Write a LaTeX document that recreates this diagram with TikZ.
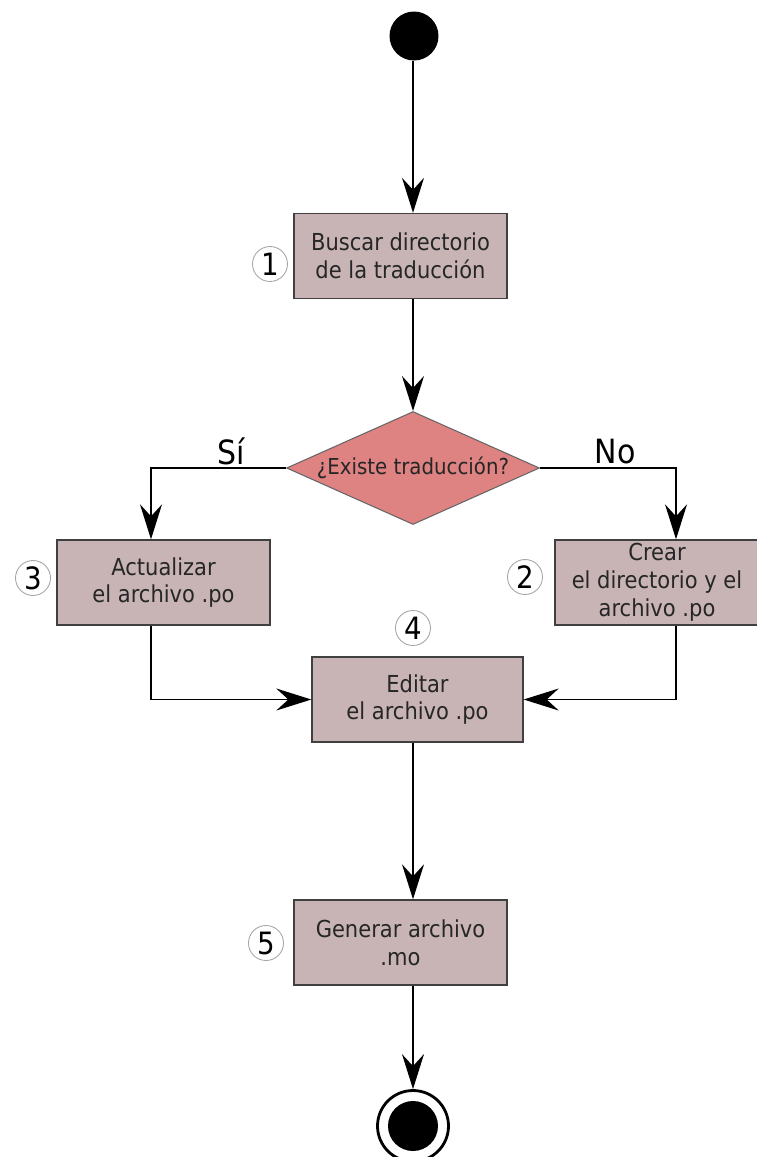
\documentclass[tikz,border=0pt]{standalone}
\usepackage{fontspec}
\setmainfont[FakeStretch=0.9]{DejaVu Sans}
\usepackage{tikz}
\usetikzlibrary{arrows.meta,shapes.geometric}
\definecolor{cajagris}{RGB}{200,180,180}
\definecolor{rombo}{RGB}{222,130,130}
\tikzset{
	paso/.style={draw=black!75, line width=0.8pt, fill=cajagris, align=center,
		minimum width=4.26cm, minimum height=1.7cm, inner sep=2pt, text=black!85,
		font=\fontsize{13.3}{15.8}\selectfont},
	decision/.style={diamond, draw=black!60, line width=0.6pt, fill=rombo,
		aspect=2.24, inner sep=0pt, minimum width=5.06cm, minimum height=2.26cm,
		text=black!85, font=\fontsize{12.5}{15}\selectfont},
	numero/.style={circle, draw=black!35, line width=0.5pt, fill=white,
		minimum size=0.7cm, inner sep=0pt, font=\fontsize{17.5}{17.5}\selectfont},
	flecha/.style={line width=1.1pt,
		-{Stealth[length=7mm, width=4.4mm, inset=2.4mm]}},
	rama/.style={font=\fontsize{19}{19}\selectfont}
}

\begin{document}
\begin{tikzpicture}[x=0.02cm, y=-0.02cm]
			%%%%% START %%%%%
			\useasboundingbox (0, 0) rectangle (757, 1157);
			
			\node[circle, fill=black, minimum size=0.98cm, inner sep=0pt] (inicio) at (414, 36) {};
			
			\node[paso] (buscar) at (400.5, 256) {Buscar directorio\\de la traducción};
			\node[numero] (n1) at (270, 264) {1};
			
			\node[decision] (existe) at (413, 468) {¿Existe traducción?};
			\node[rama] (lblSi) at (231, 451) {Sí};
			\node[rama] (lblNo) at (615, 452) {No};
			
			\node[paso] (actualizar) at (163.5, 582.5) {Actualizar\\el archivo .po};
			\node[numero] (n3) at (33, 578) {3};
			
			\node[paso, minimum width=4.08cm] (crear) at (657, 582.5) {Crear\\el directorio y el\\archivo .po};
			\node[numero] (n2) at (525, 577) {2};
			
			\node[paso, minimum width=4.22cm] (editar) at (417.5, 699.5) {Editar\\el archivo .po};
			\node[numero] (n4) at (413, 628) {4};
			
			\node[paso] (generar) at (400.5, 942.5) {Generar archivo\\.mo};
			\node[numero] (n5) at (266, 943) {5};
			
			\node[circle, draw=black, line width=1.6pt, fill=white, minimum size=1.42cm, inner sep=0pt] (fin) at (413, 1126) {};
			\node[circle, fill=black, minimum size=1cm, inner sep=0pt] (finDentro) at (fin) {};
			
			\coordinate (colIzq) at (151, 0);
			\coordinate (colDer) at (676, 0);
			
			\draw[flecha] (existe.north |- inicio.south) -- (existe.north |- buscar.north);
			\draw[flecha] (existe.north |- buscar.south) -- (existe.north);
			\draw[flecha] (existe.west) -| (colIzq |- actualizar.north);
			\draw[flecha] (existe.east) -| (colDer |- crear.north);
			\draw[flecha] (colIzq |- actualizar.south) |- (editar.west);
			\draw[flecha] (colDer |- crear.south) |- (editar.east);
			\draw[flecha] (existe.north |- editar.south) -- (existe.north |- generar.north);
			\draw[flecha] (existe.north |- generar.south) -- (fin.north);
			%%%%% END %%%%%
		\end{tikzpicture}
\end{document}
